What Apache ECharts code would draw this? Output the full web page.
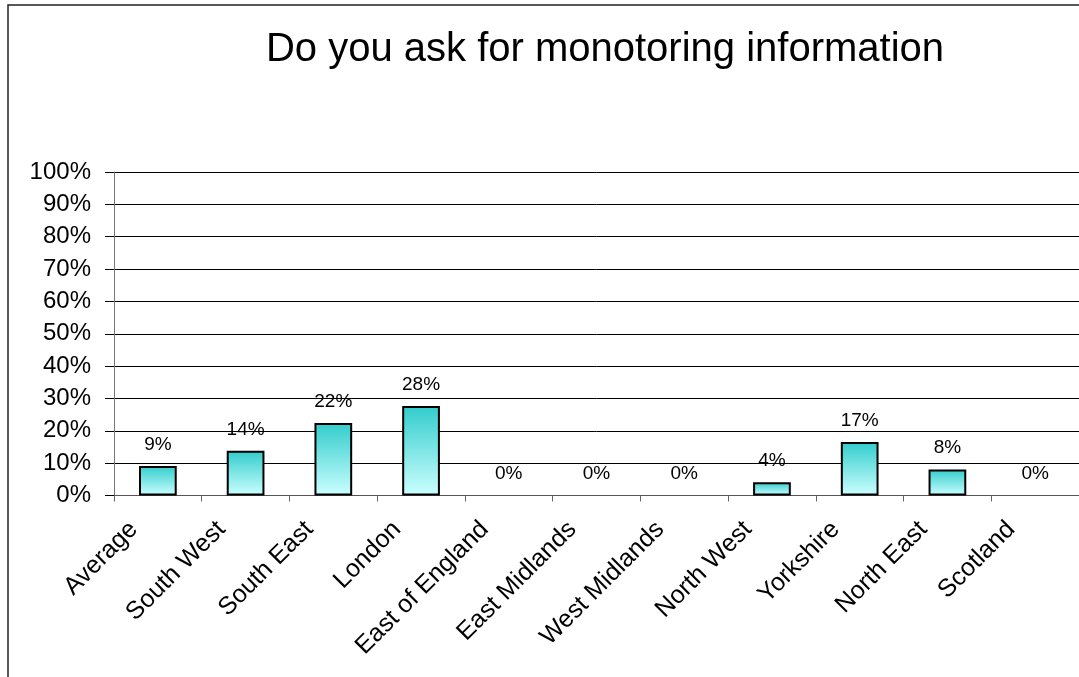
<!DOCTYPE html>
<html>
<head>
<meta charset="utf-8">
<script src="https://cdn.jsdelivr.net/npm/echarts@6/dist/echarts.min.js"></script>
<style>
html,body{margin:0;padding:0;background:#fff;}
#chart{width:1079px;height:677px;}
</style>
</head>
<body>
<div id="chart"></div>
<script>
const titleText = 'Do you ask for monotoring information';
const categories = ['Average','South West','South East','London','East of England','East Midlands','West Midlands','North West','Yorkshire','North East','Scotland'];
const values = [9.1, 13.8, 22.4, 27.7, 0, 0, 0, 4.1, 16.5, 8.0, 0];
const yTicks = [0,10,20,30,40,50,60,70,80,90,100];

const chart = echarts.init(document.getElementById('chart'));
const font = 'Liberation Sans, Arial, sans-serif';
const barData = values.map(v => v === 0 ? {value: v, itemStyle: {borderWidth: 0, opacity: 0}} : v);
chart.setOption({
  animation: false,
  backgroundColor: '#ffffff',
  title: {
    text: titleText,
    left: 600, textAlign: 'center', top: 25,
    textStyle: {fontFamily: font, fontSize: 40, fontWeight: 'normal', color: '#000'}
  },
  graphic: [{
    type: 'rect', shape: {x: 8, y: 5, width: 1200, height: 800},
    style: {fill: 'none', stroke: '#222', lineWidth: 1.5}, silent: true
  }],
  grid: {left: 114, right: -3, top: 172, bottom: 181.5, containLabel: false},
  xAxis: {
    type: 'category', data: categories,
    axisLine: {show: true, lineStyle: {color: '#555', width: 1}},
    axisTick: {show: true, length: 6, lineStyle: {color: '#666'}},
    axisLabel: {rotate: 45, interval: 0, margin: 6, padding: [0, 34, 0, 0],
      fontFamily: font, fontSize: 25, color: '#000'}
  },
  yAxis: {
    type: 'value', min: yTicks[0], max: yTicks[yTicks.length-1], interval: 10,
    axisLine: {show: true, lineStyle: {color: '#777', width: 1}},
    axisTick: {show: true, length: 9, lineStyle: {color: '#000'}},
    splitLine: {show: true, lineStyle: {color: '#000', width: 1}},
    axisLabel: {formatter: v => v + '%', margin: 23, fontFamily: font, fontSize: 24, color: '#000'}
  },
  series: [{
    type: 'bar', data: barData, barWidth: '43%',
    itemStyle: {
      color: new echarts.graphic.LinearGradient(0, 0, 0, 1, [
        {offset: 0, color: '#33CCCC'}, {offset: 1, color: '#CCFFFF'}
      ]),
      borderColor: '#000', borderWidth: 2
    },
    label: {show: true, position: 'top', distance: 12, opacity: 1,
      formatter: p => Math.round(p.value) + '%',
      fontFamily: font, fontSize: 19, color: '#000'}
  }]
});
</script>
</body>
</html>
